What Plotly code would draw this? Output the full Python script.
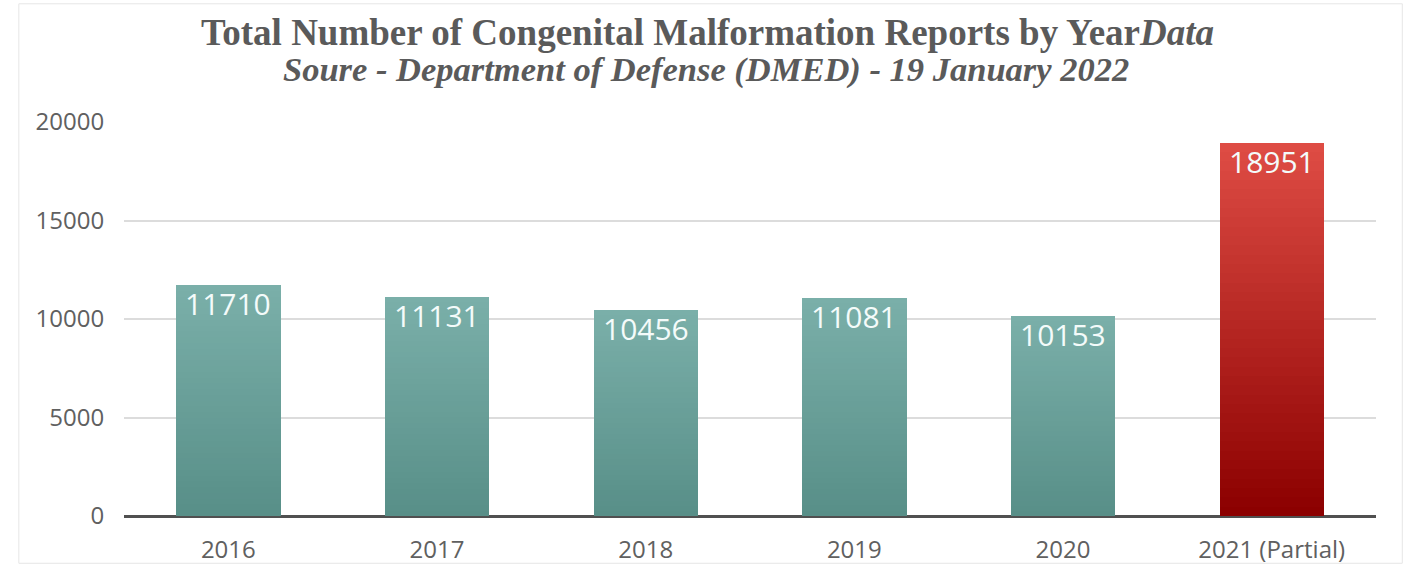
import plotly.graph_objects as go

# Reports per year
years = ["2016", "2017", "2018", "2019", "2020", "2021 (Partial)"]
reports = [11710, 11131, 10456, 11081, 10153, 18951]

# Bar colour ramps (top colour, bottom colour)
teal_top, teal_bottom = (122, 175, 169), (88, 143, 136)
red_top, red_bottom = (222, 76, 68), (140, 0, 0)

N_STEPS = 40


def mix(c1, c2, t):
    return "rgb({},{},{})".format(*[round(a + (b - a) * t) for a, b in zip(c1, c2)])


fig = go.Figure()

# Each bar is built from thin stacked slices to give a vertical colour fade
for i in range(N_STEPS):
    t = i / (N_STEPS - 1)  # 0 at bottom, 1 at top
    colors = []
    for y in years:
        if "2021" in y:
            colors.append(mix(red_bottom, red_top, t))
        else:
            colors.append(mix(teal_bottom, teal_top, t))
    fig.add_trace(go.Bar(
        x=years,
        y=[v / N_STEPS for v in reports],
        marker=dict(color=colors, line=dict(width=0)),
        width=0.5,
        showlegend=False,
        hoverinfo="skip",
    ))

# Value labels inside the top of each bar (x given as category index)
for idx, v in enumerate(reports):
    fig.add_annotation(
        x=idx, y=v, text=str(v), showarrow=False,
        yanchor="top", yshift=4,
        font=dict(family="Open Sans, Lato, sans-serif", size=30, color="#f4fbfa"),
    )

# Two-line heading, centred on the page rather than the plot area
fig.add_annotation(
    xref="paper", yref="paper", x=0.4657, y=1.228, xanchor="center", yanchor="middle",
    text="<b>Total Number of Congenital Malformation Reports by Year<i>Data</i></b>",
    showarrow=False,
    font=dict(family="Liberation Serif, serif", size=37, color="#5a5a5a"),
)
fig.add_annotation(
    xref="paper", yref="paper", x=0.4645, y=1.132, xanchor="center", yanchor="middle",
    text="<b><i>Soure - Department of Defense (DMED) - 19 January 2022</i></b>",
    showarrow=False,
    font=dict(family="Liberation Serif, serif", size=34.5, color="#5a5a5a"),
)

tick_font = dict(family="Open Sans, Lato, sans-serif", size=24, color="#606060")

fig.update_layout(
    barmode="stack",
    bargap=0.5,
    width=1413, height=581,
    margin=dict(l=124, r=37, t=122, b=65),
    paper_bgcolor="white",
    plot_bgcolor="white",
    xaxis=dict(
        type="category",
        categoryorder="array", categoryarray=years,
        range=[-0.5, len(years) - 0.5],
        showgrid=False, showline=False, zeroline=False,
        ticks="outside", ticklen=12, tickcolor="rgba(0,0,0,0)",
        tickfont=tick_font,
    ),
    yaxis=dict(
        range=[0, 20000], tickvals=[0, 5000, 10000, 15000, 20000],
        tickformat="d",
        showgrid=True, gridcolor="#dcdcdc", gridwidth=2,
        zeroline=True, zerolinecolor="#505050", zerolinewidth=3,
        showline=False,
        ticks="outside", ticklen=14, tickcolor="rgba(0,0,0,0)",
        tickfont=tick_font,
    ),
)

# Faint outer frame
fig.add_shape(type="rect", xref="paper", yref="paper",
              x0=-0.084, x1=1.021, y0=-0.12, y1=1.3,
              line=dict(color="#e6e6e6", width=1), layer="below")

fig.write_html("out.html")
